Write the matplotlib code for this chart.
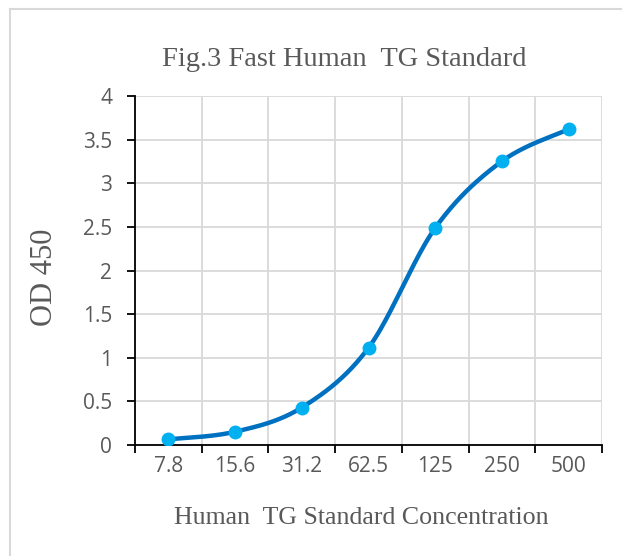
import numpy as np
import matplotlib
matplotlib.use('Agg')
import matplotlib.pyplot as plt
from matplotlib.lines import Line2D

# Standard curve data
concentrations = ['7.8', '15.6', '31.2', '62.5', '125', '250', '500']
od450 = [0.065, 0.152, 0.43, 1.115, 2.49, 3.255, 3.62]

LINE_COLOR = '#0070C0'
MARKER_COLOR = '#00B0F0'
TEXT_COLOR = '#595959'
GRID_COLOR = '#D9D9D9'


def smooth_curve(x, y, n=40):
    """Excel-like smoothed line: Catmull-Rom segments as cubic Bezier."""
    x = np.asarray(x, float)
    y = np.asarray(y, float)
    px = np.concatenate([[x[0]], x, [x[-1]]])
    py = np.concatenate([[y[0]], y, [y[-1]]])
    xs, ys = [], []
    t = np.linspace(0, 1, n)
    for i in range(1, len(px) - 2):
        p0 = np.array([px[i], py[i]])
        p3 = np.array([px[i + 1], py[i + 1]])
        c1 = p0 + (np.array([px[i + 1], py[i + 1]]) - np.array([px[i - 1], py[i - 1]])) / 6
        c2 = p3 - (np.array([px[i + 2], py[i + 2]]) - np.array([px[i], py[i]])) / 6
        b = ((1 - t) ** 3)[:, None] * p0 + (3 * (1 - t) ** 2 * t)[:, None] * c1 \
            + (3 * (1 - t) * t ** 2)[:, None] * c2 + (t ** 3)[:, None] * p3
        xs.append(b[:, 0])
        ys.append(b[:, 1])
    return np.concatenate(xs), np.concatenate(ys)


fig = plt.figure(figsize=(6.22, 5.56), dpi=100)
ax = fig.add_axes([0.217, 0.1996, 0.751, 0.6274])

# outer chart frame (left and top visible)
fig.add_artist(Line2D([10 / 622, 10 / 622], [0, 1 - 9 / 556], color='#D9D9D9', lw=1.5,
                      transform=fig.transFigure))
fig.add_artist(Line2D([10 / 622, 1], [1 - 9 / 556, 1 - 9 / 556], color='#D9D9D9', lw=1.5,
                      transform=fig.transFigure))

xpos = np.arange(len(concentrations))
sx, sy = smooth_curve(xpos, od450)
ax.plot(sx, sy, color=LINE_COLOR, lw=3.2, solid_capstyle='round', zorder=3)
ax.plot(xpos, od450, 'o', color=MARKER_COLOR, ms=9, zorder=4)

ax.set_xlim(-0.5, len(concentrations) - 0.5)
ax.set_ylim(0, 4)
ax.set_yticks(np.arange(0, 4.01, 0.5))
ax.set_yticklabels(['0', '0.5', '1', '1.5', '2', '2.5', '3', '3.5', '4'])
ax.set_xticks(xpos)
ax.set_xticklabels(concentrations)
ax.set_xticks(np.arange(-0.5, len(concentrations), 1), minor=True)

ax.grid(True, axis='y', color=GRID_COLOR, lw=1.3)
ax.grid(True, axis='x', which='minor', color=GRID_COLOR, lw=1.3)
ax.set_axisbelow(True)

for s in ['top', 'right']:
    ax.spines[s].set_visible(False)
for s in ['left', 'bottom']:
    ax.spines[s].set_color('black')
    ax.spines[s].set_linewidth(1.3)

ax.tick_params(axis='x', which='major', length=0, pad=8, labelsize=15,
               labelcolor=TEXT_COLOR, labelfontfamily='Open Sans')
ax.tick_params(axis='x', which='minor', length=6, width=1.3, color='black', direction='out')
ax.tick_params(axis='y', length=6, width=1.3, color='black', direction='out', pad=10.5,
               labelsize=15, labelcolor=TEXT_COLOR, labelfontfamily='Open Sans')

ax.set_xlabel('Human  TG Standard Concentration', family='Liberation Serif',
              fontsize=18.6, color=TEXT_COLOR)
ax.xaxis.set_label_coords(0.484, -0.178)
ax.set_ylabel('OD 450', family='Liberation Serif', fontsize=22, color=TEXT_COLOR)
ax.yaxis.set_label_coords(-0.163, 0.481)

fig.text(344 / 622, 1 - 60 / 556, 'Fig.3 Fast Human  TG Standard', ha='center', va='center',
         family='Liberation Serif', fontsize=20.5, color=TEXT_COLOR)

fig.savefig('out.png', dpi=100, facecolor='white')
